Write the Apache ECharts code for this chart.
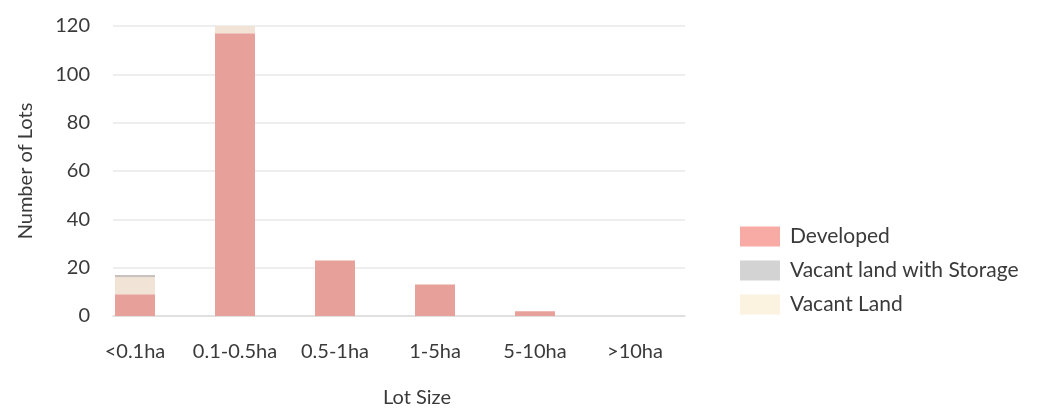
<!DOCTYPE html>
<html>
<head>
<meta charset="utf-8">
<script src="https://cdn.jsdelivr.net/npm/echarts@6/dist/echarts.min.js"></script>
<style>
  html, body { margin: 0; padding: 0; background: #fff; }
  #chart { width: 1040px; height: 408px; }
</style>
</head>
<body>
<div id="chart"></div>
<script>
// categories and values
const lotSizes = ['<0.1ha', '0.1-0.5ha', '0.5-1ha', '1-5ha', '5-10ha', '>10ha'];
const developed = [9, 117, 23, 13, 2, 0];
const vacantStorage = [1, 0, 0, 0, 0, 0];
const vacantLand = [7, 3, 0, 0, 0, 0];
const yTicks = { min: 0, max: 120, interval: 20 };

const fontFamily = 'Lato, "Open Sans", sans-serif';
const textColor = '#3a3a3a';

const chart = echarts.init(document.getElementById('chart'), null, { renderer: 'canvas' });

const option = {
  animation: false,
  textStyle: { fontFamily: fontFamily, color: textColor },
  grid: [
    // grid with the gridlines / y labels
    { left: 113, right: 355, top: 26, bottom: 92, outerBoundsMode: 'none' },
    // grid the bars sit in
    { left: 85, right: 355, top: 26, bottom: 92, outerBoundsMode: 'none' }
  ],
  legend: {
    orient: 'vertical',
    left: 735,
    top: 221,
    itemWidth: 40,
    itemHeight: 20,
    itemGap: 13,
    icon: 'rect',
    textStyle: { fontSize: 21, lineHeight: 20, color: textColor, fontFamily: fontFamily, padding: [0, 0, 0, 5] },
    data: [
      { name: 'Developed', itemStyle: { color: '#f8aba5' } },
      { name: 'Vacant land with Storage', itemStyle: { color: '#d3d3d3' } },
      { name: 'Vacant Land', itemStyle: { color: '#fbf2df' } }
    ]
  },
  xAxis: [
    {
      gridIndex: 0,
      type: 'category',
      data: lotSizes,
      axisLine: { show: true, lineStyle: { color: '#dcdcdc', width: 1.5 } },
      axisTick: { show: false },
      axisLabel: { show: false },
      name: 'Lot Size',
      nameLocation: 'middle',
      nameGap: 72,
      nameTextStyle: { fontSize: 20, color: textColor, padding: [0, 0, 0, 36] }
    },
    {
      gridIndex: 1,
      type: 'category',
      data: lotSizes,
      axisLine: { show: false },
      axisTick: { show: false },
      axisLabel: { fontSize: 20, color: textColor, margin: 26, interval: 0 }
    }
  ],
  yAxis: [
    {
      gridIndex: 0,
      type: 'value',
      min: yTicks.min,
      max: yTicks.max,
      interval: yTicks.interval,
      axisLine: { show: false },
      axisTick: { show: false },
      axisLabel: { fontSize: 20, color: textColor, margin: 23 },
      splitLine: { lineStyle: { color: '#e8e8e8', width: 1.5 } },
      name: 'Number of Lots',
      nameLocation: 'middle',
      nameGap: 77,
      nameTextStyle: { fontSize: 20, color: textColor }
    },
    {
      gridIndex: 1,
      type: 'value',
      min: yTicks.min,
      max: yTicks.max,
      interval: yTicks.interval,
      show: false,
      splitLine: { show: false }
    }
  ],
  series: [
    {
      name: 'Developed',
      type: 'bar',
      stack: 'lots',
      xAxisIndex: 1,
      yAxisIndex: 1,
      barWidth: 40,
      itemStyle: { color: '#e8a09a' },
      data: developed
    },
    {
      name: 'Vacant Land',
      type: 'bar',
      stack: 'lots',
      xAxisIndex: 1,
      yAxisIndex: 1,
      barWidth: 40,
      itemStyle: { color: '#f1e4d6' },
      data: vacantLand
    },
    {
      name: 'Vacant land with Storage',
      type: 'bar',
      stack: 'lots',
      xAxisIndex: 1,
      yAxisIndex: 1,
      barWidth: 40,
      itemStyle: { color: '#c9c1bd' },
      data: vacantStorage
    }
  ]
};

chart.setOption(option);
</script>
</body>
</html>
